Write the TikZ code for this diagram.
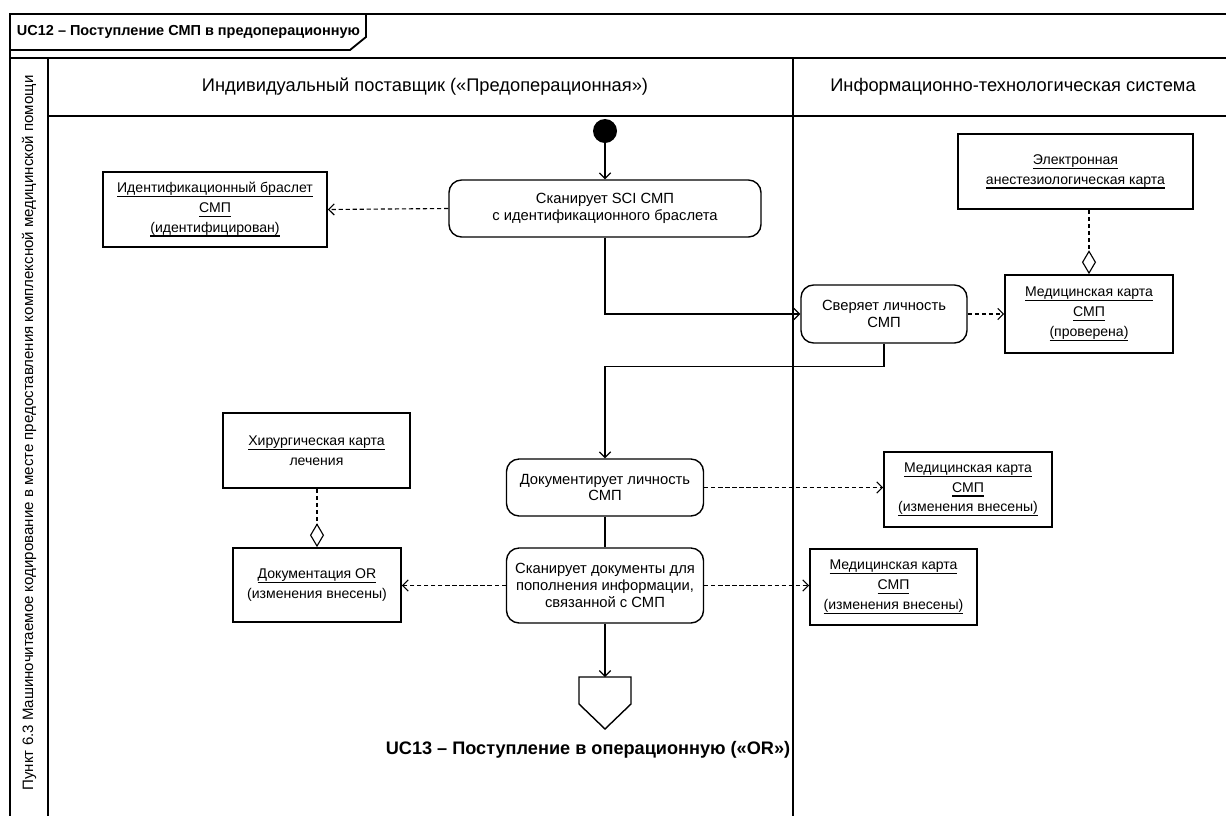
\documentclass[tikz,border=0pt]{standalone}
\usepackage{fontspec}
\setmainfont{Liberation Sans}
\usepackage{tikz}
\usetikzlibrary{positioning, arrows.meta}

\newcommand{\obul}[1]{\setbox0\hbox{#1}\leavevmode\rlap{\rule[-3.2pt]{\wd0}{0.9pt}}\box0}

\begin{document}
\begin{tikzpicture}[x=0.025cm, y=-0.025cm]
        % Define styles for shapes
        \tikzstyle{lane} = [line width=1.3pt]
        \tikzstyle{action} = [draw, line width=1pt, rounded corners=9pt, align=center, font=\fontsize{10.5}{12}\selectfont, inner sep=2pt]
        \tikzstyle{objbox} = [draw, line width=1.2pt, align=center, font=\fontsize{10}{14}\selectfont, inner sep=2pt]
        \tikzstyle{flow} = [line width=0.8pt, -{Straight Barb[length=4pt,width=8pt]}]
        \tikzstyle{dep} = [flow, dash pattern=on 3pt off 2pt]
        \tikzstyle{aggr} = [line width=0.8pt, dash pattern=on 3pt off 2pt, -{Diamond[open,length=17pt,width=10pt,line width=0.8pt]}]
        \useasboundingbox (0,0) rectangle (1226,816);

        % Draw frame and lanes
        \draw[lane] (10,816) -- (10,14) -- (1226,14);
        \draw[lane] (10,50) -- (350,50) -- (366,37) -- (366,14);
        \node[anchor=west, font=\bfseries\fontsize{10.3}{12}\selectfont] (title) at (12,32) {UC12 – Поступление СМП в предоперационную};
        \draw[lane] (10,58) -- (1226,58);
        \draw[lane] (48,58) -- (48,816);
        \draw[lane] (48,116) -- (1226,116);
        \draw[lane] (793,58) -- (793,816);
        \node[rotate=90, font=\fontsize{10.7}{12}\selectfont] (point) at (29,433) {Пункт 6.3 Машиночитаемое кодирование в месте предоставления комплексной медицинской помощи};
        \node[font=\fontsize{13}{15}\selectfont] (lanea) at (425,87) {Индивидуальный поставщик («Предоперационная»)};
        \node[font=\fontsize{13}{15}\selectfont] (laneb) at (1013,87) {Информационно-технологическая система};

        % Draw shapes
        \node[circle, fill=black, minimum size=0.6cm, inner sep=0pt] (start) at (605,131) {};
        \node[action, minimum width=7.8cm, minimum height=1.425cm] (scan) at (605,208.5) {Сканирует SCI СМП\\с идентификационного браслета};
        \node[objbox, minimum width=5.6cm, minimum height=1.875cm] (bracelet) at (215,209.5) {\obul{Идентификационный браслет}\\\obul{СМП}\\\obul{(идентифицирован)}};
        \node[objbox, minimum width=5.875cm, minimum height=1.875cm] (anest) at (1075.5,171.5) {\obul{Электронная}\\\obul{анестезиологическая карта}};
        \node[action, minimum width=4.15cm, minimum height=1.45cm] (verify) at (884,314) {Сверяет личность\\СМП};
        \node[objbox, minimum width=4.2cm, minimum height=1.95cm] (medchk) at (1089,314) {\obul{Медицинская карта}\\\obul{СМП}\\\obul{(проверена)}};
        \node[objbox, minimum width=4.675cm, minimum height=1.875cm] (surg) at (316.5,450.5) {\obul{Хирургическая карта}\\лечения};
        \node[action, minimum width=4.925cm, minimum height=1.425cm] (docid) at (605,487.5) {Документирует личность\\СМП};
        \node[objbox, minimum width=4.2cm, minimum height=1.875cm] (medupd) at (968,489.5) {\obul{Медицинская карта}\\\obul{СМП}\\\obul{(изменения внесены)}};
        \node[action, minimum width=4.925cm, minimum height=1.875cm] (scandocs) at (605,585.5) {Сканирует документы для\\пополнения информации,\\связанной с СМП};
        \node[objbox, minimum width=4.2cm, minimum height=1.85cm] (ordoc) at (317,585) {\obul{Документация OR}\\(изменения внесены)};
        \node[objbox, minimum width=4.175cm, minimum height=1.9cm] (medscan) at (893.5,587) {\obul{Медицинская карта}\\\obul{СМП}\\\obul{(изменения внесены)}};
        \draw[line width=1pt] (579,677) -- (631,677) -- (631,704) -- (605,729) -- (579,704) -- cycle;
        \coordinate (ucend) at (605,677);
        \node[font=\bfseries\fontsize{12.9}{15}\selectfont] (uclabel) at (588,750) {UC13 – Поступление в операционную («OR»)};

        % Draw arrows
        \draw[flow] (start) -- (scan);
        \draw[dep] (scan.west) -- (bracelet.east);
        \draw[flow] (scan.south) |- (verify.west);
        \draw[dep] (verify.east) -- (medchk.west);
        \draw[aggr] (anest.south -| medchk.north) -- (medchk.north);
        \draw[flow] (verify.south) -- ++(0,23) -| (docid.north);
        \draw[line width=0.8pt] (docid.south) -- (scandocs.north);
        \draw[dep] (docid.east) -- (docid.east -| medupd.west);
        \draw[dep] (scandocs.east) -- (scandocs.east -| medscan.west);
        \draw[dep] (scandocs.west) -- (scandocs.west -| ordoc.east);
        \draw[aggr] (surg.south -| ordoc.north) -- (ordoc.north);
        \draw[flow] (scandocs.south) -- (ucend);
\end{tikzpicture}
\end{document}
